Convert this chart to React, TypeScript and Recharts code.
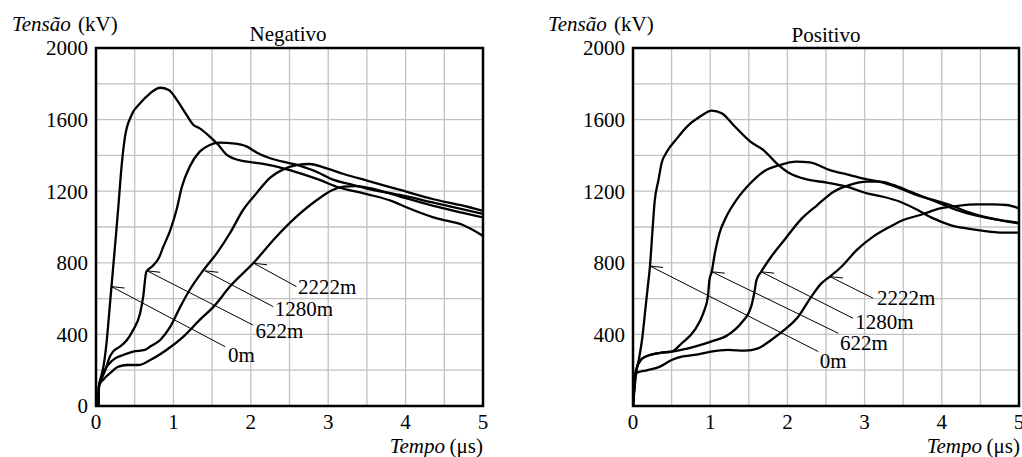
import React from 'react';
import {
  LineChart,
  Line,
  XAxis,
  YAxis,
  CartesianGrid,
  ReferenceArea,
  ReferenceLine,
  ReferenceDot,
} from 'recharts';

const FONT = '"Liberation Serif"';
const FONT_SIZE = 21;

const DISTANCES = ['0m', '622m', '1280m', '2222m'];
const X_TICKS = [0, 0.5, 1, 1.5, 2, 2.5, 3, 3.5, 4, 4.5, 5];
const Y_TICKS = [0, 200, 400, 600, 800, 1000, 1200, 1400, 1600, 1800, 2000];

// Negativo: tempo (µs) / tensão (kV)
const NEG_T_0M = [0.03, 0.04, 0.07, 0.1, 0.14, 0.17, 0.2, 0.23, 0.26, 0.29, 0.33, 0.375, 0.46, 0.57, 0.7, 0.83, 0.94, 1.06, 1.17, 1.26, 1.34, 1.47, 1.58, 1.69, 1.77, 1.95, 2.16, 2.42, 2.64, 2.89, 3.11, 3.5, 3.84, 4.01, 4.36, 4.53, 4.74, 5];
const NEG_V_0M = [0, 115, 170, 230, 369, 518, 667, 816, 965, 1120, 1337, 1505, 1626, 1691, 1747, 1778, 1765, 1700, 1626, 1570, 1551, 1505, 1459, 1403, 1384, 1365, 1352, 1328, 1300, 1263, 1225, 1184, 1142, 1110, 1054, 1035, 1011, 950];

const NEG_T_622M = [0.03, 0.04, 0.08, 0.12, 0.18, 0.22, 0.31, 0.4, 0.48, 0.57, 0.61, 0.65, 0.72, 0.81, 0.87, 0.96, 1.04, 1.11, 1.21, 1.34, 1.47, 1.6, 1.77, 1.95, 2.08, 2.25, 2.51, 2.64, 2.89, 3.07, 3.28, 3.5, 3.93, 4.36, 5];
const NEG_V_622M = [0, 115, 160, 201, 276, 304, 332, 369, 425, 518, 611, 750, 778, 825, 890, 983, 1095, 1225, 1337, 1421, 1458, 1471, 1467, 1449, 1415, 1384, 1356, 1341, 1300, 1263, 1240, 1215, 1179, 1136, 1073];

const NEG_T_1280M = [0.03, 0.04, 0.1, 0.22, 0.35, 0.48, 0.63, 0.7, 0.83, 0.96, 1.09, 1.21, 1.39, 1.56, 1.73, 1.9, 2.08, 2.25, 2.42, 2.59, 2.76, 2.94, 3.2, 3.5, 3.93, 4.36, 4.7, 5];
const NEG_V_1280M = [0, 115, 190, 257, 285, 304, 313, 332, 369, 443, 555, 648, 760, 853, 965, 1095, 1192, 1276, 1322, 1345, 1352, 1333, 1296, 1259, 1207, 1155, 1123, 1090];

const NEG_T_2222M = [0.03, 0.04, 0.1, 0.18, 0.29, 0.4, 0.55, 0.7, 0.91, 1.13, 1.34, 1.52, 1.73, 2.03, 2.33, 2.59, 2.76, 2.9, 3.05, 3.2, 3.35, 3.5, 3.93, 4.36, 5];
const NEG_V_2222M = [0, 115, 150, 183, 220, 229, 229, 257, 313, 388, 481, 555, 667, 797, 946, 1058, 1120, 1165, 1205, 1225, 1228, 1220, 1170, 1118, 1054];

// Positivo
const POS_T_0M = [0, 0.04, 0.08, 0.12, 0.16, 0.19, 0.22, 0.25, 0.28, 0.33, 0.37, 0.44, 0.57, 0.7, 0.87, 1.02, 1.15, 1.3, 1.52, 1.69, 1.86, 2.03, 2.25, 2.51, 2.77, 3.03, 3.24, 3.46, 3.67, 3.89, 4.11, 4.32, 4.54, 4.75, 5];
const POS_V_0M = [0, 180, 270, 380, 540, 660, 782, 965, 1140, 1263, 1356, 1421, 1495, 1561, 1617, 1650, 1635, 1570, 1477, 1430, 1356, 1300, 1266, 1248, 1225, 1188, 1169, 1141, 1099, 1048, 1011, 992, 978, 969, 969];

const POS_T_622M = [0, 0.04, 0.1, 0.19, 0.37, 0.5, 0.63, 0.8, 0.91, 0.97, 0.99, 1.02, 1.06, 1.12, 1.21, 1.34, 1.52, 1.69, 1.9, 2.12, 2.29, 2.55, 2.81, 3.03, 3.24, 3.46, 3.67, 3.89, 4.11, 4.32, 4.54, 4.75, 5];
const POS_V_622M = [0, 201, 257, 281, 298, 304, 350, 425, 518, 611, 704, 750, 853, 965, 1058, 1151, 1244, 1309, 1346, 1365, 1361, 1318, 1290, 1266, 1248, 1216, 1179, 1151, 1123, 1086, 1058, 1039, 1020];

const POS_T_1280M = [0, 0.04, 0.1, 0.19, 0.37, 0.5, 0.8, 1.01, 1.23, 1.4, 1.53, 1.57, 1.6, 1.66, 1.79, 1.96, 2.17, 2.38, 2.6, 2.81, 3.03, 3.2, 3.37, 3.54, 3.76, 3.98, 4.19, 4.41, 4.62, 5];
const POS_V_1280M = [0, 201, 257, 281, 298, 304, 332, 360, 397, 462, 555, 630, 704, 750, 834, 927, 1040, 1120, 1197, 1235, 1253, 1253, 1235, 1207, 1169, 1132, 1095, 1067, 1048, 1024];

const POS_T_2222M = [0, 0.03, 0.19, 0.35, 0.5, 0.63, 0.8, 1.01, 1.23, 1.45, 1.62, 1.79, 1.96, 2.14, 2.31, 2.44, 2.55, 2.7, 2.9, 3.11, 3.33, 3.5, 3.72, 3.98, 4.19, 4.45, 4.67, 4.84, 5];
const POS_V_2222M = [0, 182, 201, 220, 257, 276, 285, 304, 313, 309, 322, 369, 425, 499, 611, 685, 723, 778, 872, 946, 1002, 1039, 1067, 1104, 1117, 1126, 1126, 1123, 1104];

// leader lines: point on the curve, end of the line, start of the text
const NEG_TIP_T = [0.2, 0.66, 1.41, 2.04];
const NEG_TIP_V = [667, 755, 755, 797];
const NEG_END_T = [1.67, 2.03, 2.29, 2.59];
const NEG_END_V = [331, 452, 555, 667];
const NEG_TXT_T = [1.705, 2.06, 2.31, 2.61];
const NEG_TXT_V = [285, 419, 542, 665];

const POS_TIP_T = [0.22, 1.02, 1.66, 2.55];
const POS_TIP_V = [782, 750, 750, 723];
const POS_END_T = [2.4, 2.66, 2.85, 3.11];
const POS_END_V = [304, 406, 490, 602];
const POS_TXT_T = [2.42, 2.68, 2.88, 3.16];
const POS_TXT_V = [251, 356, 471, 605];

type Pt = { t: number; v: number };
type Note = { name: string; tip: Pt; end: Pt; txt: Pt };

const pts = (t: number[], v: number[]): Pt[] => t.map((x, i) => ({ t: x, v: v[i] }));

const negSeries = [
  pts(NEG_T_0M, NEG_V_0M),
  pts(NEG_T_622M, NEG_V_622M),
  pts(NEG_T_1280M, NEG_V_1280M),
  pts(NEG_T_2222M, NEG_V_2222M),
];
const posSeries = [
  pts(POS_T_0M, POS_V_0M),
  pts(POS_T_622M, POS_V_622M),
  pts(POS_T_1280M, POS_V_1280M),
  pts(POS_T_2222M, POS_V_2222M),
];

const makeNotes = (
  tipT: number[], tipV: number[], endT: number[], endV: number[], txtT: number[], txtV: number[],
): Note[] =>
  DISTANCES.map((name, i) => ({
    name,
    tip: { t: tipT[i], v: tipV[i] },
    end: { t: endT[i], v: endV[i] },
    txt: { t: txtT[i], v: txtV[i] },
  }));

const negNotes = makeNotes(NEG_TIP_T, NEG_TIP_V, NEG_END_T, NEG_END_V, NEG_TXT_T, NEG_TXT_V);
const posNotes = makeNotes(POS_TIP_T, POS_TIP_V, POS_END_T, POS_END_V, POS_TXT_T, POS_TXT_V);

// plain <text> (no tspans) so the serif face is applied to every label
const txtStyle: React.CSSProperties = { fontFamily: FONT, fontSize: FONT_SIZE };
const itStyle: React.CSSProperties = { fontFamily: FONT, fontSize: FONT_SIZE, fontStyle: 'italic' };

const XTick = (p: any) => {
  const v = p.payload.value as number;
  if (!Number.isInteger(v)) return <g />;
  return (
    <text x={p.x} y={p.y} dy="0.71em" textAnchor="middle" fill="#000" style={txtStyle}>
      {String(v)}
    </text>
  );
};

const makeYTick = (showZero: boolean) => (p: any) => {
  const v = p.payload.value as number;
  if (v % 400 !== 0 || (v === 0 && !showZero)) return <g />;
  return (
    <text x={p.x} y={p.y} dy="0.35em" textAnchor="end" fill="#000" style={txtStyle}>
      {String(v)}
    </text>
  );
};

interface PanelProps {
  left: number;
  width: number;
  marginRight: number;
  series: Pt[][];
  notes: Note[];
  showZeroY: boolean;
}

const Panel: React.FC<PanelProps> = ({ left, width, marginRight, series, notes, showZeroY }) => (
  <div style={{ position: 'absolute', left, top: 0 }}>
    <LineChart width={width} height={457} margin={{ top: 48, right: marginRight, bottom: 0, left: 0 }}>
      <CartesianGrid stroke="#c2c2c2" strokeWidth={1.3} />
      <XAxis
        type="number"
        dataKey="t"
        domain={[0, 5]}
        ticks={X_TICKS}
        interval={0}
        allowDataOverflow
        axisLine={false}
        tickLine={false}
        tickSize={0}
        tickMargin={8}
        height={51}
        tick={XTick}
      />
      <YAxis
        type="number"
        domain={[0, 2000]}
        ticks={Y_TICKS}
        interval={0}
        allowDataOverflow
        axisLine={false}
        tickLine={false}
        tickSize={0}
        tickMargin={8}
        width={96}
        tick={makeYTick(showZeroY)}
      />
      {series.map((data, i) => (
        <Line
          key={DISTANCES[i]}
          data={data}
          dataKey="v"
          type="monotone"
          stroke="#000"
          strokeWidth={2.3}
          dot={false}
          activeDot={false}
          isAnimationActive={false}
        />
      ))}
      {notes.map((n) => (
        <ReferenceLine
          key={`lead-${n.name}`}
          segment={[{ x: n.tip.t, y: n.tip.v }, { x: n.end.t, y: n.end.v }]}
          stroke="#000"
          strokeWidth={1}
          ifOverflow="visible"
        />
      ))}
      {notes.map((n) => (
        <ReferenceLine
          key={`barb-${n.name}`}
          segment={[{ x: n.tip.t, y: n.tip.v }, { x: n.tip.t + 0.17, y: n.tip.v - 8 }]}
          stroke="#000"
          strokeWidth={1}
          ifOverflow="visible"
        />
      ))}
      {notes.map((n) => (
        <ReferenceDot
          key={`txt-${n.name}`}
          x={n.txt.t}
          y={n.txt.v}
          r={1}
          ifOverflow="visible"
          shape={(p: any) => (
            <text x={p.cx} y={p.cy} dy="0.35em" fill="#000" style={txtStyle}>
              {n.name}
            </text>
          )}
        />
      ))}
      <ReferenceArea x1={0} x2={5} y1={0} y2={2000} fill="none" stroke="#000" strokeWidth={2.5} />
    </LineChart>
  </div>
);

// italic quantity followed by its unit, as two separate text runs
const AxisName: React.FC<{ x: number; y: number; name: string; unit: string; anchorEnd?: boolean; unitWidth: number }> = ({
  x, y, name, unit, anchorEnd, unitWidth,
}) =>
  anchorEnd ? (
    <g>
      <text x={x - unitWidth} y={y} textAnchor="end" style={itStyle}>{name}</text>
      <text x={x} y={y} textAnchor="end" style={txtStyle}>{unit}</text>
    </g>
  ) : (
    <g>
      <text x={x} y={y} style={itStyle}>{name}</text>
      <text x={x + unitWidth} y={y} style={txtStyle}>{unit}</text>
    </g>
  );

const AxisTitles: React.FC = () => (
  <svg width={1022} height={457} style={{ position: 'absolute', left: 0, top: 0, pointerEvents: 'none' }} fill="#000">
    <AxisName x={12} y={31} name="Tensão" unit="(kV)" unitWidth={66} />
    <AxisName x={548} y={31} name="Tensão" unit="(kV)" unitWidth={66} />
    <text x={288} y={41} textAnchor="middle" style={txtStyle}>Negativo</text>
    <text x={826} y={42} textAnchor="middle" style={txtStyle}>Positivo</text>
    <AxisName x={483} y={453} name="Tempo" unit="(μs)" anchorEnd unitWidth={38} />
    <AxisName x={1020} y={453} name="Tempo" unit="(μs)" anchorEnd unitWidth={38} />
  </svg>
);

export default function App() {
  return (
    <div style={{ position: 'absolute', left: 0, top: 0, width: 1022, height: 457, background: '#fff' }}>
      <Panel left={0} width={500} marginRight={17} series={negSeries} notes={negNotes} showZeroY />
      <Panel left={537} width={485} marginRight={3} series={posSeries} notes={posNotes} showZeroY={false} />
      <AxisTitles />
    </div>
  );
}
